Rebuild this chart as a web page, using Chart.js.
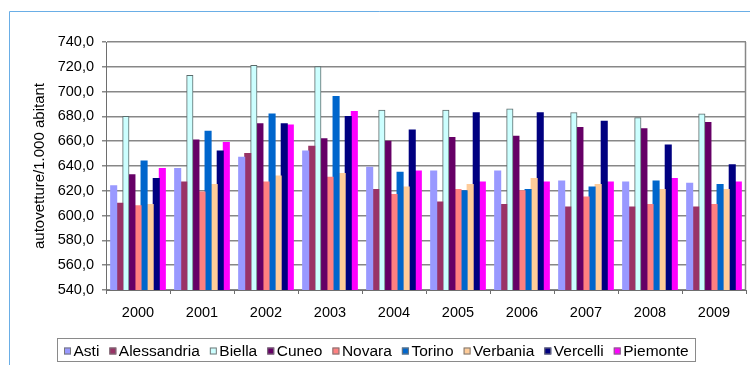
<!DOCTYPE html>
<html>
<head>
<meta charset="utf-8">
<script src="https://cdn.jsdelivr.net/npm/chart.js@4"></script>
<style>
  html, body { margin: 0; padding: 0; background: #fff; }
  #wrap { width: 750px; height: 365px; position: relative; }
  canvas { display: block; }
</style>
</head>
<body>
<div id="wrap"><canvas id="chart" width="750" height="365"></canvas></div>
<script>
// Anni
const years = ['2000', '2001', '2002', '2003', '2004', '2005', '2006', '2007', '2008', '2009'];

// Autovetture ogni 1.000 abitanti, per provincia
const asti        = [624, 638, 647, 652, 639, 636, 636, 628, 627, 626];
const alessandria = [610, 627, 650, 656, 621, 611, 609, 607, 607, 607];
const biella      = [680, 713, 721, 720, 685, 685, 686, 683, 679, 682];
const cuneo       = [633, 661, 674, 662, 660, 663, 664, 671, 670, 675];
const novara      = [608, 619, 627, 631, 617, 621, 620, 615, 609, 609];
const torino      = [644, 668, 682, 696, 635, 620, 621, 623, 628, 625];
const verbania    = [609, 625, 632, 634, 623, 625, 630, 625, 621, 621];
const vercelli    = [630, 652, 674, 680, 669, 683, 683, 676, 657, 641];
const piemonte    = [638, 659, 673, 684, 636, 627, 627, 627, 630, 627];

const seriesNames  = ['Asti', 'Alessandria', 'Biella', 'Cuneo', 'Novara', 'Torino', 'Verbania', 'Vercelli', 'Piemonte'];
const seriesValues = [asti, alessandria, biella, cuneo, novara, torino, verbania, vercelli, piemonte];

// Asse Y
const yMin = 540, yMax = 740, yStep = 20;
const yTitle = 'autovetture/1.000 abitant';

// Palette
const palette = ['#9999FF', '#993366', '#CCFFFF', '#660066', '#FF8080', '#0066CC', '#FFCC99', '#000080', '#FF00FF'];

const FONT = '"Liberation Sans", Arial, Helvetica, sans-serif';
const GRID = '#878787';
const AXIS = '#6e6e6e';

const datasets = seriesNames.map((name, i) => ({
  label: name,
  data: seriesValues[i],
  backgroundColor: palette[i],
  borderColor: name === 'Biella' ? '#5b6b6b' : palette[i],
  borderWidth: name === 'Biella' ? 1 : 0,
  inflateAmount: 0.5,
  categoryPercentage: 0.855,
  barPercentage: 1.0
}));

// Cornice esterna, bordo destro dell'area del grafico e legenda in riquadro
const decor = {
  id: 'decor',
  beforeDraw(chart) {
    const ctx = chart.ctx;
    ctx.save();
    ctx.fillStyle = '#fff';
    ctx.fillRect(0, 0, chart.width, chart.height);
    ctx.strokeStyle = '#6aaee6';
    ctx.lineWidth = 1;
    ctx.beginPath();
    ctx.moveTo(9.5, chart.height);
    ctx.lineTo(9.5, 11.5);
    ctx.lineTo(chart.width, 11.5);
    ctx.stroke();
    ctx.restore();
  },
  afterDraw(chart) {
    const ctx = chart.ctx;
    const a = chart.chartArea;
    ctx.save();
    ctx.strokeStyle = GRID;
    ctx.lineWidth = 1.5;
    ctx.beginPath();
    ctx.moveTo(Math.round(a.right) - 0.5, a.top);
    ctx.lineTo(Math.round(a.right) - 0.5, a.bottom);
    ctx.stroke();

    // legenda
    ctx.font = '15.5px ' + FONT;
    ctx.textBaseline = 'middle';
    ctx.textAlign = 'left';
    const cy = 351;
    let x = 64;
    chart.data.datasets.forEach((ds) => {
      ctx.fillStyle = ds.backgroundColor;
      ctx.fillRect(x, cy - 3.5, 7, 7);
      ctx.strokeStyle = '#777';
      ctx.lineWidth = 1;
      ctx.strokeRect(x + 0.5, cy - 3, 6, 6);
      ctx.fillStyle = '#000';
      const tx = x + 9.5;
      ctx.fillText(ds.label, tx, cy + 0.5);
      x = tx + ctx.measureText(ds.label).width + 10;
    });
    const right = x - 10 + 6.5;
    ctx.strokeStyle = '#8a8a8a';
    ctx.lineWidth = 1;
    ctx.strokeRect(57.5, 338.5, Math.round(right - 57.5), 23);
    ctx.restore();
  }
};

new Chart(document.getElementById('chart'), {
  type: 'bar',
  data: { labels: years, datasets },
  options: {
    responsive: false,
    animation: false,
    devicePixelRatio: 1,
    layout: { padding: { top: 42, right: 4, left: 0, bottom: 0 } },
    plugins: {
      legend: { display: false },
      tooltip: { enabled: false }
    },
    scales: {
      x: {
        offset: true,
        grid: { display: true, drawOnChartArea: false, drawTicks: true, tickLength: 4, color: AXIS, offset: true },
        border: { display: true, color: AXIS, width: 1 },
        ticks: { color: '#000', font: { family: FONT, size: 14.5 }, padding: 10, maxRotation: 0 },
        afterFit(scale) { scale.height = 75; }
      },
      y: {
        min: yMin,
        max: yMax,
        ticks: {
          stepSize: yStep,
          color: '#000',
          font: { family: FONT, size: 14.5 },
          padding: 8,
          callback: v => v.toFixed(1).replace('.', ',')
        },
        grid: { color: GRID, lineWidth: 1.5, tickLength: 4, drawTicks: true },
        border: { display: true, color: AXIS, width: 1 },
        title: {
          display: true,
          text: yTitle,
          color: '#000',
          font: { family: FONT, size: 15 },
          padding: { top: 31, bottom: 0 }
        },
        afterFit(scale) { scale.width = 106; }
      }
    }
  },
  plugins: [decor]
});
</script>
</body>
</html>
